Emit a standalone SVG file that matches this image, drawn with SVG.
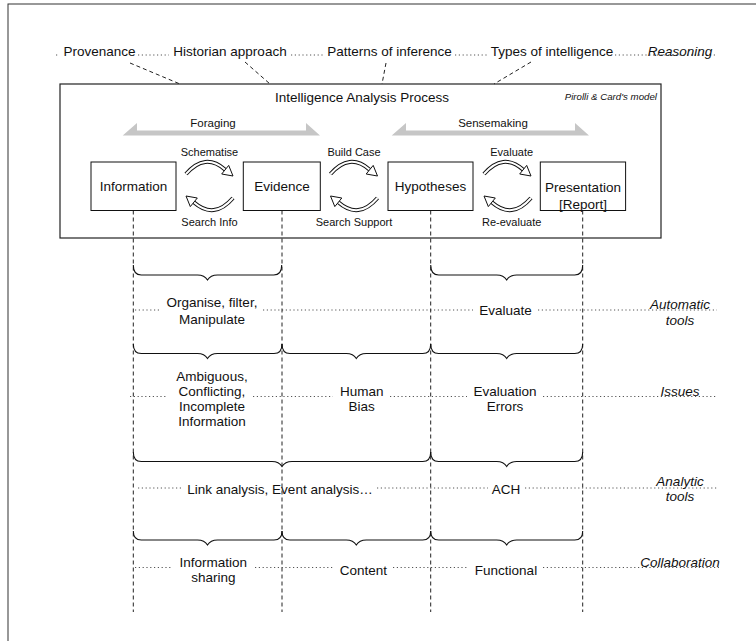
<svg xmlns="http://www.w3.org/2000/svg" width="756" height="641" viewBox="0 0 756 641">
<defs>
<style>
text{font-family:"Liberation Sans",Arial,Helvetica,sans-serif;fill:#111;}
.t{font-size:13.5px;text-anchor:middle}
.s{font-size:11px;text-anchor:middle}
.i{font-size:13.5px;font-style:italic;text-anchor:middle}
.box{fill:#fff;stroke:#111;stroke-width:1}
.frame{fill:none;stroke:#222;stroke-width:1.2}
.dot{fill:none;stroke:#555;stroke-width:1;stroke-dasharray:1.2 2.6}
.dash{fill:none;stroke:#222;stroke-width:1;stroke-dasharray:4 3}
.brace{fill:none;stroke:#111;stroke-width:1.1}
.ga{fill:#c6c6c6}
</style>
<g id="cyc">
<path d="M-23.5,-12 Q-4.5,-34 15.7,-16.3" fill="none" stroke="#111" stroke-width="4"/>
<path d="M-23.5,-12 Q-4.5,-34 15.7,-16.3" fill="none" stroke="#fff" stroke-width="2"/>
<polygon points="23.5,-10 12.2,-12 19.2,-20.6" fill="#fff" stroke="#111" stroke-width="1"/>
</g>
</defs>
<rect width="756" height="641" fill="#fff"/>
<rect x="8" y="4" width="760" height="660" fill="none" stroke="#333" stroke-width="1"/>

<g id="connectors">
<path class="dot" d="M56,55 L59,55 M138,55 L169,55 M291,55 L324,55 M455,55 L487,55 M615,55 L717,55"/>
<path class="dash" d="M130,63 L180,84 M245,62 L270,84 M386,63 L382,84 M531,62 L494,84"/>
<path class="dot" d="M135,310 L160,310 M263,310 L473,310 M538,310 L717,310"/>
<path class="dot" d="M130,396.5 L168,396.5 M253,396.5 L333,396.5 M390,396.5 L467,396.5 M543,396.5 L717,396.5"/>
<path class="dot" d="M138,488 L182,488 M377,488 L488,488 M525,488 L718,488"/>
<path class="dot" d="M135,567.5 L172,567.5 M255,567.5 L333,567.5 M393,567.5 L468,567.5 M543,567.5 L720,567.5"/>
<path class="dash" d="M133.3,210.5 L133.3,612 M282,210.5 L282,612 M430.7,210.5 L430.7,612 M582.7,210.5 L582.7,612"/>
<g id="braces">
<path class="brace" d="M133.3,265 Q133.3,275 141.3,275 L197.5,275 Q204.5,275 207.5,280 Q210.5,275 217.5,275 L273.7,275 Q281.7,275 281.7,265"/>
<path class="brace" d="M430.7,265 Q430.7,275 438.7,275 L496.7,275 Q503.7,275 506.7,280 Q509.7,275 516.7,275 L574.7,275 Q582.7,275 582.7,265"/>
<path class="brace" d="M133.3,344 Q133.3,353.5 141.3,353.5 L197.5,353.5 Q204.5,353.5 207.5,358.5 Q210.5,353.5 217.5,353.5 L274,353.5 Q282,353.5 282,344"/>
<path class="brace" d="M282,344 Q282,353.5 290,353.5 L346.3,353.5 Q353.3,353.5 356.3,358.5 Q359.3,353.5 366.3,353.5 L422.7,353.5 Q430.7,353.5 430.7,344"/>
<path class="brace" d="M430.7,344 Q430.7,353.5 438.7,353.5 L496.7,353.5 Q503.7,353.5 506.7,358.5 Q509.7,353.5 516.7,353.5 L574.7,353.5 Q582.7,353.5 582.7,344"/>
<path class="brace" d="M133.3,452 Q133.3,461.5 141.3,461.5 L272,461.5 Q279,461.5 282,466.5 Q285,461.5 292,461.5 L422.7,461.5 Q430.7,461.5 430.7,452"/>
<path class="brace" d="M430.7,452 Q430.7,461.5 438.7,461.5 L496.7,461.5 Q503.7,461.5 506.7,466.5 Q509.7,461.5 516.7,461.5 L574.7,461.5 Q582.7,461.5 582.7,452"/>
<path class="brace" d="M133.3,531 Q133.3,540 141.3,540 L197.5,540 Q204.5,540 207.5,545 Q210.5,540 217.5,540 L274,540 Q282,540 282,531"/>
<path class="brace" d="M282,531 Q282,540 290,540 L346.3,540 Q353.3,540 356.3,545 Q359.3,540 366.3,540 L422.7,540 Q430.7,540 430.7,531"/>
<path class="brace" d="M430.7,531 Q430.7,540 438.7,540 L496.7,540 Q503.7,540 506.7,545 Q509.7,540 516.7,540 L574.7,540 Q582.7,540 582.7,531"/>
</g>
</g>

<g id="top-labels">
<text class="t" x="99.5" y="55.5">Provenance</text>
<text class="t" x="230" y="55.5">Historian approach</text>
<text class="t" x="389.5" y="55.5">Patterns of inference</text>
<text class="t" x="552" y="55.5">Types of intelligence</text>
<text class="i" x="680" y="55.5">Reasoning</text>
</g>

<g id="process">
<rect class="frame" x="60" y="84" width="601" height="154"/>
<text class="t" x="362" y="101.7">Intelligence Analysis Process</text>
<text x="657" y="100" font-size="9.7" font-style="italic" text-anchor="end">Pirolli &amp; Card's model</text>
<polygon class="ga" points="122.7,135.5 137,123 137,130.5 306,130.5 306,123 320,135.5"/>
<text x="213" y="126.5" font-size="11.5" text-anchor="middle">Foraging</text>
<polygon class="ga" points="391.7,135.5 406,123 406,130.5 575,130.5 575,123 589,135.5"/>
<text x="493" y="126.5" font-size="11.5" text-anchor="middle">Sensemaking</text>
</g>

<g id="information"><rect class="box" x="91" y="162" width="85" height="48.5"/><text class="t" x="133.5" y="190.7">Information</text></g>
<g id="evidence"><rect class="box" x="243.3" y="162" width="77" height="48.5"/><text class="t" x="282" y="190.7">Evidence</text></g>
<g id="hypotheses"><rect class="box" x="388" y="162" width="85" height="48.5"/><text class="t" x="430.5" y="190.7">Hypotheses</text></g>
<g id="presentation"><rect class="box" x="540.3" y="162" width="85.3" height="48.5"/><text class="t" x="583" y="192">Presentation</text><text class="t" x="583" y="208.5">[Report]</text></g>

<g id="cycles">
<use href="#cyc" transform="translate(209.5,186)"/>
<use href="#cyc" transform="translate(209.5,186) rotate(180)"/>
<text class="s" x="209.5" y="155.5">Schematise</text>
<text class="s" x="209.5" y="225.5">Search Info</text>
<use href="#cyc" transform="translate(354,186)"/>
<use href="#cyc" transform="translate(354,186) rotate(180)"/>
<text class="s" x="354" y="155.5">Build Case</text>
<text class="s" x="354" y="225.5">Search Support</text>
<use href="#cyc" transform="translate(507.5,186)"/>
<use href="#cyc" transform="translate(507.5,186) rotate(180)"/>
<text class="s" x="511.7" y="155.5">Evaluate</text>
<text class="s" x="511.7" y="225.5">Re-evaluate</text>
</g>

<g id="row-automatic">
<text class="t" x="212" y="307">Organise, filter,</text>
<text class="t" x="212" y="323.7">Manipulate</text>
<text class="t" x="505.5" y="314.7">Evaluate</text>
<text class="i" x="680" y="308.7">Automatic</text>
<text class="i" x="680" y="324.7">tools</text>
</g>

<g id="row-issues">
<text class="t" x="212" y="381.4">Ambiguous,</text>
<text class="t" x="212" y="396.4">Conflicting,</text>
<text class="t" x="212" y="411.4">Incomplete</text>
<text class="t" x="212" y="426.4">Information</text>
<text class="t" x="361.7" y="396.4">Human</text>
<text class="t" x="361.7" y="411.4">Bias</text>
<text class="t" x="505" y="396.4">Evaluation</text>
<text class="t" x="505" y="411.4">Errors</text>
<text class="i" x="680" y="396.4">Issues</text>
</g>

<g id="row-analytic">
<text class="t" x="280" y="494">Link analysis, Event analysis…</text>
<text class="t" x="506" y="494">ACH</text>
<text class="i" x="680" y="486.4">Analytic</text>
<text class="i" x="680" y="501.4">tools</text>
</g>

<g id="row-collaboration">
<text class="t" x="213.3" y="567">Information</text>
<text class="t" x="213.3" y="582">sharing</text>
<text class="t" x="363.3" y="574.7">Content</text>
<text class="t" x="506" y="574.7">Functional</text>
<text class="i" x="680" y="567.4">Collaboration</text>
</g>
</svg>
